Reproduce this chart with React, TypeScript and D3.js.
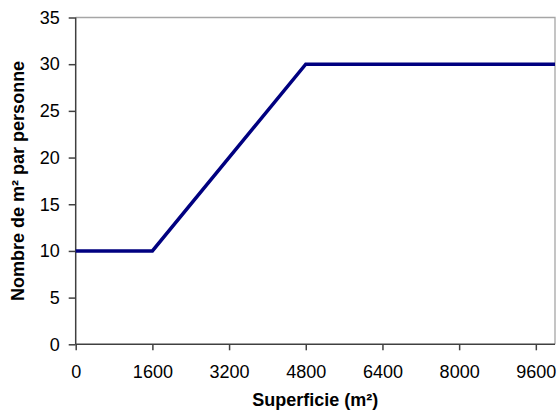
import React, { useEffect, useRef } from 'react';
import * as d3 from 'd3';

// surface (m²) -> m² per person
const surfaces = [0, 1600, 4800, 10000];
const perPerson = [10, 10, 30, 30];
const xTicks = [0, 1600, 3200, 4800, 6400, 8000, 9600];
const yTicks = [0, 5, 10, 15, 20, 25, 30, 35];

const xTitle = 'Superficie (m²)';
const yTitle = 'Nombre de m² par personne';

const width = 557;
const height = 413;
const margin = { top: 17.5, right: 2, bottom: 68.7, left: 75.7 };
const font = '"Liberation Sans", Arial, sans-serif';

const App: React.FC = () => {
  const ref = useRef<SVGSVGElement | null>(null);

  useEffect(() => {
    if (!ref.current) return;
    const svg = d3.select(ref.current);
    svg.selectAll('*').remove();

    const x = d3.scaleLinear().domain([0, 10000]).range([margin.left, width - margin.right]);
    const y = d3.scaleLinear().domain([0, 35]).range([height - margin.bottom, margin.top]);
    const x0 = x.range()[0], x1 = x.range()[1];
    const y0 = y.range()[0], y1 = y.range()[1];

    // light frame top + right
    svg.append('path')
      .attr('d', `M${x0},${y1}H${x1}V${y0}`)
      .attr('fill', 'none')
      .attr('stroke', '#a6a6a6')
      .attr('stroke-width', 1.3);

    // x axis
    const xAxis = svg.append('g')
      .attr('transform', `translate(0,${y0})`)
      .call(d3.axisBottom(x).tickValues(xTicks).tickSize(6).tickPadding(15).tickFormat(d3.format('d')))
      .call(g => g.select('.domain').attr('d', `M${x0},0H${x1}`))
      .attr('font-family', font)
      .attr('font-size', 18);
    xAxis.selectAll('line, path').attr('stroke', '#404040').attr('stroke-width', 1.5);
    xAxis.selectAll('text').attr('fill', '#000');

    // y axis
    const yAxis = svg.append('g')
      .attr('transform', `translate(${x0},0)`)
      .call(d3.axisLeft(y).tickValues(yTicks).tickSize(7).tickPadding(9))
      .call(g => g.select('.domain').attr('d', `M0,${y0}V${y1}`))
      .attr('font-family', font)
      .attr('font-size', 18);
    yAxis.selectAll('line, path').attr('stroke', '#404040').attr('stroke-width', 1.5);
    yAxis.selectAll('text').attr('fill', '#000');

    // line
    const pts = surfaces.map((s, i) => [s, perPerson[i]] as [number, number]);
    const line = d3.line<[number, number]>()
      .x(d => x(d[0]))
      .y(d => y(d[1]));
    svg.append('path')
      .datum(pts)
      .attr('d', line)
      .attr('fill', 'none')
      .attr('stroke', '#000080')
      .attr('stroke-width', 3.5)
      .attr('stroke-linejoin', 'miter');

    // titles
    svg.append('text')
      .attr('x', (x0 + x1) / 2)
      .attr('y', 406)
      .attr('text-anchor', 'middle')
      .attr('font-family', font)
      .attr('font-size', 18)
      .attr('font-weight', 'bold')
      .text(xTitle);

    svg.append('text')
      .attr('transform', `translate(24,${(y0 + y1) / 2}) rotate(-90)`)
      .attr('text-anchor', 'middle')
      .attr('font-family', font)
      .attr('font-size', 18)
      .attr('font-weight', 'bold')
      .text(yTitle);
  }, []);

  return (
    <svg
      ref={ref}
      width={width}
      height={height}
      style={{ position: 'absolute', left: 0, top: 0, background: '#fff' }}
    />
  );
};

export default App;
